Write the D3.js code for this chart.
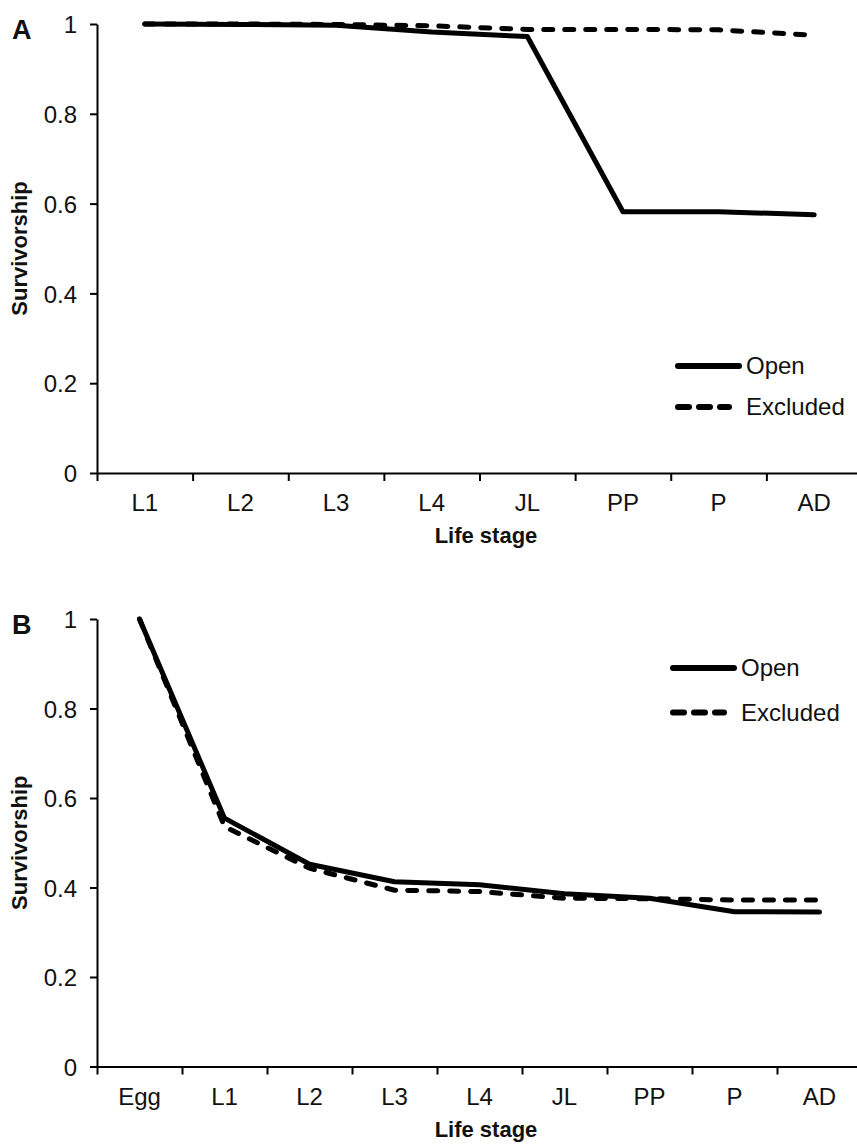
<!DOCTYPE html>
<html>
<head>
<meta charset="utf-8">
<script src="https://cdn.jsdelivr.net/npm/d3@7"></script>
<style>
  body { margin: 0; background: #fff; }
  svg { display: block; font-family: "Liberation Sans", Arial, sans-serif; }
  .axis path, .axis line { stroke: #000; stroke-width: 2px; }
  .axis text { font-size: 24px; fill: #111; font-family: "Liberation Sans", Arial, sans-serif; }
  .title { font-size: 22px; font-weight: bold; fill: #111; }
  .panel { font-size: 27px; font-weight: bold; fill: #111; }
  .legend text { font-size: 24px; fill: #111; }
</style>
</head>
<body>
<svg id="fig" width="857" height="1144"></svg>
<script>
// panel A values
const stagesA = ["L1", "L2", "L3", "L4", "JL", "PP", "P", "AD"];
const openA = [1, 0.999, 0.997, 0.982, 0.972, 0.582, 0.582, 0.575];
const excludedA = [1, 1, 0.999, 0.996, 0.988, 0.988, 0.987, 0.975];

// panel B values
const stagesB = ["Egg", "L1", "L2", "L3", "L4", "JL", "PP", "P", "AD"];
const openB = [1, 0.555, 0.452, 0.413, 0.406, 0.386, 0.376, 0.346, 0.345];
const excludedB = [1, 0.536, 0.443, 0.394, 0.391, 0.376, 0.375, 0.372, 0.372];

const yTicks = [0, 0.2, 0.4, 0.6, 0.8, 1];
const seriesNames = ["Open", "Excluded"];

const svg = d3.select("#fig");

function drawPanel(letter, stages, open, excluded, top, bottom, legendX, legendY) {
    const left = 97, right = 862;
    const g = svg.append("g");

    let x = d3.scaleBand().domain(stages).range([left, right]);
    let edge = d3.scaleLinear().domain([0, stages.length]).range([left, right]);
    let y = d3.scaleLinear().domain([0, 1]).range([bottom, top]);

    // y axis
    g.append("g").attr("class", "axis")
        .attr("transform", `translate(${left},0)`)
        .call(d3.axisLeft(y).tickValues(yTicks).tickSize(7).tickSizeOuter(0).tickPadding(13)
            .tickFormat(d => (d === 0 || d === 1) ? d : d.toFixed(1)))
        .call(a => a.selectAll("text").attr("dy", "0.36em"));

    // x axis: boundary ticks + centred labels
    g.append("g").attr("class", "axis")
        .attr("transform", `translate(0,${bottom})`)
        .call(d3.axisBottom(edge).tickValues(d3.range(stages.length + 1)).tickSize(8).tickSizeOuter(0).tickFormat(""));
    g.append("g").attr("class", "axis")
        .attr("transform", `translate(0,${bottom})`)
        .call(d3.axisBottom(x).tickSize(0).tickPadding(21))
        .call(a => a.select(".domain").remove());

    // lines
    let line = d3.line()
        .x((d, i) => x(stages[i]) + x.bandwidth() / 2)
        .y(d => y(d));

    g.append("path").datum(excluded)
        .attr("d", line)
        .attr("fill", "none").attr("stroke", "#000")
        .attr("stroke-width", 5)
        .attr("stroke-linecap", "round")
        .attr("stroke-dasharray", "9,12");

    g.append("path").datum(open)
        .attr("d", line)
        .attr("fill", "none").attr("stroke", "#000")
        .attr("stroke-width", 5)
        .attr("stroke-linejoin", "round")
        .attr("stroke-linecap", "round");

    // titles
    g.append("text").attr("class", "panel")
        .attr("x", 12).attr("y", top + 15)
        .text(letter);

    g.append("text").attr("class", "title")
        .attr("transform", `translate(27,${(top + bottom) / 2}) rotate(-90)`)
        .attr("text-anchor", "middle")
        .text("Survivorship");

    g.append("text").attr("class", "title")
        .attr("x", 486).attr("y", bottom + 70)
        .attr("text-anchor", "middle")
        .text("Life stage");

    // legend
    let leg = g.append("g").attr("class", "legend");
    seriesNames.forEach((name, i) => {
        let ly = legendY[i];
        leg.append("line")
            .attr("x1", legendX + 3).attr("x2", i === 0 ? legendX + 64 : legendX + 54)
            .attr("y1", ly).attr("y2", ly)
            .attr("stroke", "#000").attr("stroke-width", 6)
            .attr("stroke-linecap", "round")
            .attr("stroke-dasharray", i === 0 ? null : "11,10");
        leg.append("text")
            .attr("x", legendX + 71).attr("y", ly)
            .attr("dy", "0.35em")
            .text(name);
    });
}

drawPanel("A", stagesA, openA, excludedA, 24, 473, 675, [366, 407]);
drawPanel("B", stagesB, openB, excludedB, 619, 1066.5, 670, [668, 712.5]);
</script>
</body>
</html>
